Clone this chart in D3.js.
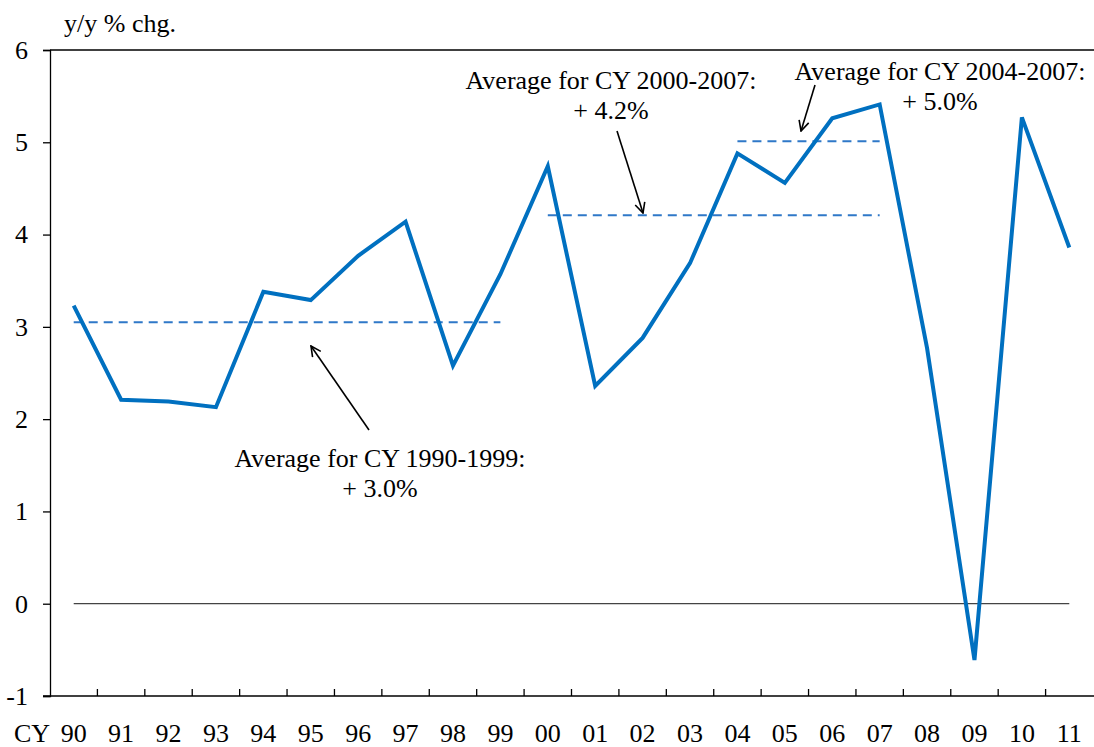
<!DOCTYPE html>
<meta charset="utf-8">
<style>
    body { margin: 0; background: #fff; }
    text { font-family: "Liberation Serif", "Times New Roman", serif; fill: #000; }
    .tick text { font-size: 26px; }
    .ann { font-size: 26px; }
</style>
<svg width="1094" height="747"></svg>
<script src="https://cdnjs.cloudflare.com/ajax/libs/d3/7.8.5/d3.min.js"></script>
<script>

    var years = ["90","91","92","93","94","95","96","97","98","99","00","01","02","03","04","05","06","07","08","09","10","11"];
    var growth = [3.23, 2.21, 2.19, 2.13, 3.38, 3.29, 3.77, 4.14, 2.58, 3.57, 4.74, 2.36, 2.88, 3.69, 4.88, 4.56, 5.26, 5.41, 2.77, -0.61, 5.27, 3.86];
    var yTicks = [-1, 0, 1, 2, 3, 4, 5, 6];

    // averages: start year, end year, value
    var avgFrom = ["90", "00", "04"];
    var avgTo = ["99", "07", "07"];
    var avgValue = [3.05, 4.21, 5.01];
    var avgText = [["Average for CY 1990-1999:", "+ 3.0%"], ["Average for CY 2000-2007:", "+ 4.2%"], ["Average for CY 2004-2007:", "+ 5.0%"]];

    var svg = d3.select("svg");
    var mLeft = 50, mRight = 1094, mTop = 50, mBottom = 696;

    var x = d3.scaleBand().domain(years).range([mLeft, mRight - 1]);
    var y = d3.scaleLinear().domain([-1, 6]).range([mBottom, mTop]);
    var cx = function (d) { return x(d) + x.bandwidth() / 2; };

    // top border
    svg.append("line")
        .attr("x1", mLeft).attr("x2", mRight).attr("y1", y(6)).attr("y2", y(6))
        .attr("stroke", "#000").attr("stroke-width", 1.3);

    // y axis
    var yAxis = svg.append("g")
        .attr("transform", "translate(" + mLeft + ",0)")
        .call(d3.axisLeft(y).tickValues(yTicks).tickSize(7).tickPadding(15).tickFormat(function (d) { return String(d); }));
    yAxis.select(".domain").attr("stroke-width", 1.3);
    yAxis.selectAll(".tick line").attr("stroke-width", 1.3);
    yAxis.attr("font-family", null).attr("font-size", null);

    // x axis line and ticks between categories
    var xg = svg.append("g");
    xg.append("line")
        .attr("x1", mLeft - 7).attr("x2", mRight).attr("y1", mBottom).attr("y2", mBottom)
        .attr("stroke", "#000").attr("stroke-width", 1.3);
    xg.selectAll(".xt").data(years.slice(1)).enter().append("line")
        .attr("x1", function (d) { return x(d); }).attr("x2", function (d) { return x(d); })
        .attr("y1", mBottom).attr("y2", mBottom - 7)
        .attr("stroke", "#000").attr("stroke-width", 1.3);
    xg.selectAll(".xl").data(years).enter().append("text")
        .attr("x", cx).attr("y", mBottom + 46)
        .attr("text-anchor", "middle").style("font-size", "26px")
        .text(function (d) { return d; });
    xg.append("text").attr("x", 14).attr("y", mBottom + 46).style("font-size", "26px").text("CY");

    // unit label
    svg.append("text").attr("x", 64).attr("y", 32).style("font-size", "26px").text("y/y % chg.");

    // zero line
    svg.append("line")
        .attr("x1", cx(years[0])).attr("x2", cx(years[years.length - 1]))
        .attr("y1", y(0)).attr("y2", y(0))
        .attr("stroke", "#444").attr("stroke-width", 1.2);

    // average dashed lines
    svg.selectAll(".avg").data(avgValue).enter().append("line")
        .attr("x1", function (d, i) { return cx(avgFrom[i]); })
        .attr("x2", function (d, i) { return cx(avgTo[i]); })
        .attr("y1", function (d) { return y(d); })
        .attr("y2", function (d) { return y(d); })
        .attr("stroke", "#2F78C8").attr("stroke-width", 2)
        .attr("stroke-dasharray", "9,6");

    // main line
    svg.append("path")
        .datum(growth)
        .attr("fill", "none")
        .attr("stroke", "#0070C0")
        .attr("stroke-width", 4)
        .attr("stroke-linejoin", "miter")
        .attr("d", d3.line().x(function (d, i) { return cx(years[i]); }).y(function (d) { return y(d); }));

    // annotations
    var textPos = [[380, 467], [611, 89], [940, 80]];
    var arrows = [[369, 430, 311, 346], [617, 131, 643, 213], [815, 85, 801, 131]];

    svg.append("defs").append("marker")
        .attr("id", "arr").attr("viewBox", "0 0 12 12").attr("refX", 11).attr("refY", 6)
        .attr("markerWidth", 12).attr("markerHeight", 12).attr("markerUnits", "userSpaceOnUse")
        .attr("orient", "auto")
        .append("path").attr("d", "M1,1 L11,6 L1,11").attr("fill", "none").attr("stroke", "#000").attr("stroke-width", 1.6);

    avgText.forEach(function (t, i) {
        var g = svg.append("text").attr("class", "ann").attr("text-anchor", "middle");
        g.append("tspan").attr("x", textPos[i][0]).attr("y", textPos[i][1]).text(t[0]);
        g.append("tspan").attr("x", textPos[i][0]).attr("y", textPos[i][1] + 30).text(t[1]);
        svg.append("line")
            .attr("x1", arrows[i][0]).attr("y1", arrows[i][1])
            .attr("x2", arrows[i][2]).attr("y2", arrows[i][3])
            .attr("stroke", "#000").attr("stroke-width", 1.6)
            .attr("marker-end", "url(#arr)");
    });

</script>
